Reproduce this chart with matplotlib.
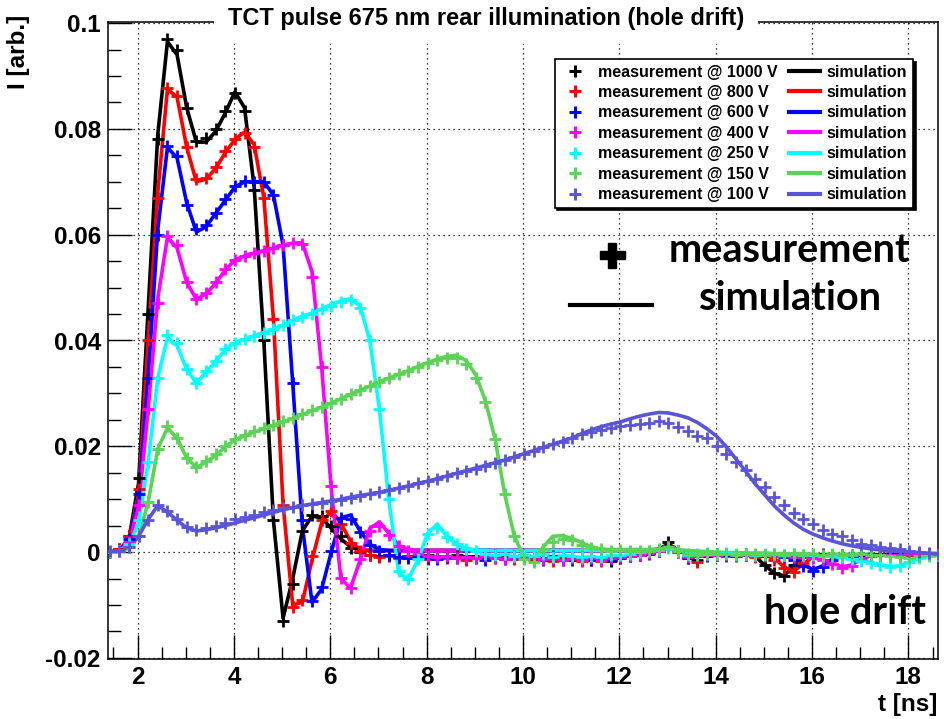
import numpy as np
import matplotlib
matplotlib.use("Agg")
import matplotlib.pyplot as plt
from matplotlib.lines import Line2D
from matplotlib.ticker import MultipleLocator, FuncFormatter

plt.rcParams['font.family'] = ['Liberation Sans', 'DejaVu Sans']
plt.rcParams['font.weight'] = 'bold'
plt.rcParams['axes.unicode_minus'] = False

# %% data: sample times (ns), currents in units of 1e-3 arb.
t = np.round(1.42 + 0.2 * np.arange(87), 2)

voltages = ['1000', '800', '600', '400', '250', '150', '100']
colors = ['#000000', '#ff0000', '#0000ff', '#ff00ff', '#00ffff', '#59d454', '#5954d8']

meas_1000 = [
    0.0, 0.5, 3.0, 14.0, 45.0, 78.0, 97.0, 95.0, 84.0, 77.7,
    78.3, 80.0, 83.4, 86.7, 83.3, 68.5, 40.0, 6.0, -13.0, -6.0,
    4.0, 7.0, 6.8, 5.0, 3.0, 0.8, 0.0, -0.5, -0.8, -0.6,
    -1.0, -0.7, -0.9, -0.5, -1.0, -0.8, -0.6, -1.1, -0.7, -0.9,
    -0.6, -1.0, -0.8, -0.5, -0.9, -1.2, -0.8, -1.0, -1.4, -1.1,
    -1.5, -1.2, -1.6, -1.0, -0.8, -0.5, -0.2, 0.3, 1.9, 0.2,
    -1.2, -1.5, -0.8, -0.3, -0.5, -0.6, -0.4, -0.8, -2.5, -4.0,
    -4.6, -2.5, -1.0, -0.6, -0.4, -0.7, -0.5, -0.8, -0.6, -0.5,
    -0.6, -0.4, -0.5, -0.3, -0.5, -0.4, -0.3]
sim_1000 = [
    0.0, 0.3, 2.5, 13.0, 46.0, 79.0, 96.5, 94.0, 84.0, 77.5,
    77.5, 79.5, 83.0, 87.0, 84.0, 69.0, 40.0, 6.0, -12.5, -5.0,
    4.0, 6.8, 6.5, 4.5, 2.5, 1.0, 0.4, 0.3, 0.3, 0.3,
    0.3, 0.3, 0.3, 0.3, 0.3, 0.3, 0.3, 0.3, 0.3, 0.3,
    0.3, 0.3, 0.3, 0.3, 0.3, 0.3, 0.3, 0.3, 0.3, 0.3,
    0.2, 0.2, 0.2, 0.2, 0.2, 0.2, 0.3, 0.6, 1.5, 0.4,
    -0.1, -0.3, -0.3, -0.3, -0.3, -0.3, -0.4, -0.8, -2.5, -4.0,
    -4.5, -2.5, -1.0, -0.6, -0.5, -0.5, -0.5, -0.5, -0.5, -0.5,
    -0.5, -0.5, -0.5, -0.4, -0.4, -0.4, -0.4]

meas_800 = [
    0.0, 0.5, 3.0, 12.0, 40.0, 67.0, 87.7, 86.2, 76.5, 70.5,
    70.7, 72.8, 75.8, 78.0, 79.2, 76.6, 67.0, 44.0, 9.0, -10.3,
    -9.0, -0.8, 6.0, 7.8, 5.4, 1.8, 0.2, -0.5, -1.0, -0.7,
    -1.2, -0.8, -1.0, -1.3, -0.7, -1.1, -0.9, -1.4, -1.0, -0.8,
    -1.2, -0.9, -1.3, -1.0, -1.5, -1.2, -1.6, -1.1, -1.3, -1.7,
    -1.2, -1.6, -1.3, -1.1, -0.7, -0.4, -0.2, 0.2, 1.2, 0.2,
    -0.8, -1.9, -0.6, -0.5, -0.7, -0.5, -0.6, -0.9, -0.8, -1.5,
    -3.0, -3.8, -2.0, -0.8, -0.6, -0.8, -0.5, -0.7, -0.6, -0.4,
    -0.5, -0.6, -0.4, -0.5, -0.3, -0.4, -0.3]
sim_800 = [
    0.0, 0.3, 2.5, 11.0, 40.0, 68.0, 87.5, 86.0, 76.5, 70.0,
    70.5, 72.5, 75.5, 78.0, 79.4, 77.0, 67.0, 44.0, 9.0, -10.0,
    -9.5, -1.5, 5.5, 7.8, 5.5, 2.0, 0.5, 0.3, 0.3, 0.3,
    0.3, 0.3, 0.3, 0.3, 0.3, 0.3, 0.3, 0.3, 0.3, 0.3,
    0.3, 0.3, 0.3, 0.3, 0.3, 0.3, 0.3, 0.3, 0.3, 0.3,
    0.2, 0.2, 0.2, 0.2, 0.2, 0.2, 0.3, 0.5, 1.0, 0.4,
    -0.1, -0.3, -0.3, -0.3, -0.3, -0.3, -0.3, -0.4, -0.6, -1.2,
    -2.8, -3.6, -2.2, -0.9, -0.5, -0.5, -0.5, -0.5, -0.5, -0.5,
    -0.5, -0.5, -0.4, -0.4, -0.4, -0.4, -0.4]

meas_600 = [
    0.0, 0.4, 2.5, 11.0, 33.0, 60.0, 76.7, 74.8, 65.7, 61.0,
    61.9, 64.1, 66.7, 69.2, 70.1, 69.9, 69.9, 67.5, 58.0, 32.0,
    6.0, -9.2, -6.6, 0.2, 6.5, 6.2, 3.8, 1.3, 0.3, -0.5,
    -0.9, -1.2, -0.8, -1.1, -1.3, -0.9, -1.2, -0.8, -1.1, -1.4,
    -1.0, -1.3, -0.9, -1.2, -1.0, -1.4, -1.1, -1.5, -1.2, -1.0,
    -1.4, -1.1, -1.5, -1.2, -0.8, -0.6, -0.3, 0.2, 0.9, 0.1,
    -1.2, -0.7, -0.4, -0.6, -0.5, -0.7, -0.5, -0.6, -0.8, -0.7,
    -0.9, -1.5, -2.6, -3.5, -2.8, -1.4, -0.8, -0.6, -0.5, -0.6,
    -0.4, -0.5, -0.4, -0.3, -0.4, -0.3, -0.3]
sim_600 = [
    0.0, 0.3, 2.2, 10.0, 33.0, 61.0, 76.5, 74.5, 66.0, 60.5,
    61.5, 64.0, 66.5, 69.0, 70.0, 70.0, 70.0, 67.5, 58.0, 32.0,
    5.0, -9.5, -7.0, 0.0, 6.5, 7.0, 4.0, 1.5, 0.5, 0.3,
    0.3, 0.3, 0.3, 0.3, 0.3, 0.3, 0.3, 0.3, 0.3, 0.3,
    0.3, 0.3, 0.3, 0.3, 0.3, 0.3, 0.3, 0.3, 0.3, 0.3,
    0.2, 0.2, 0.2, 0.2, 0.2, 0.2, 0.2, 0.4, 0.8, 0.3,
    -0.1, -0.2, -0.3, -0.3, -0.3, -0.3, -0.3, -0.4, -0.4, -0.5,
    -0.7, -1.3, -2.4, -3.3, -2.6, -1.3, -0.7, -0.5, -0.5, -0.5,
    -0.5, -0.4, -0.4, -0.4, -0.4, -0.3, -0.3]

meas_400 = [
    0.0, 0.4, 2.0, 9.0, 27.0, 47.0, 59.8, 58.0, 51.0, 47.8,
    49.0, 51.0, 53.5, 55.3, 56.0, 56.6, 56.9, 57.5, 58.0, 58.4,
    58.3, 52.0, 35.0, 12.5, -4.8, -6.8, -1.3, 4.0, 5.0, 3.2,
    1.2, 0.2, -0.4, -0.8, -1.0, -0.7, -1.1, -0.9, -1.2, -0.8,
    -1.1, -1.3, -0.9, -1.2, -1.0, -1.3, -1.1, -1.4, -1.2, -1.5,
    -1.1, -1.4, -1.2, -1.0, -0.7, -0.5, -0.2, 0.3, 0.9, 0.1,
    -1.0, -0.7, -0.5, -0.6, -0.4, -0.6, -0.5, -0.7, -0.6, -0.8,
    -0.7, -0.9, -1.0, -1.2, -1.5, -2.2, -3.0, -2.6, -1.5, -0.8,
    -0.6, -0.5, -0.5, -0.4, -0.4, -0.3, -0.3]
sim_400 = [
    0.0, 0.3, 1.8, 8.5, 27.0, 48.0, 59.5, 57.5, 51.0, 47.8,
    48.8, 50.8, 53.3, 55.2, 56.0, 56.5, 57.0, 57.5, 58.0, 58.4,
    58.5, 53.0, 35.0, 12.0, -5.0, -6.8, -1.5, 4.5, 5.7, 3.5,
    1.3, 0.5, 0.3, 0.3, 0.3, 0.3, 0.3, 0.3, 0.3, 0.3,
    0.3, 0.3, 0.3, 0.3, 0.3, 0.3, 0.3, 0.3, 0.3, 0.3,
    0.2, 0.2, 0.2, 0.2, 0.2, 0.2, 0.2, 0.4, 0.7, 0.3,
    -0.1, -0.2, -0.3, -0.3, -0.3, -0.3, -0.3, -0.4, -0.4, -0.5,
    -0.6, -0.7, -0.9, -1.1, -1.4, -2.0, -2.8, -2.4, -1.4, -0.7,
    -0.5, -0.4, -0.4, -0.4, -0.3, -0.3, -0.3]

meas_250 = [
    0.0, 0.3, 1.5, 6.0, 17.0, 33.0, 41.0, 39.5, 34.6, 32.0,
    34.2, 36.2, 38.4, 39.6, 40.2, 40.9, 41.5, 42.1, 42.9, 43.8,
    44.5, 45.1, 45.9, 46.6, 47.2, 47.7, 46.2, 40.0, 27.0, 10.0,
    -3.5, -5.0, -1.3, 3.5, 4.5, 2.9, 1.6, 0.6, 0.2, -0.3,
    -0.6, -0.4, -0.8, -0.5, -0.7, -0.4, -0.9, -0.6, -0.8, -1.0,
    -0.7, -0.9, -0.6, -0.5, -0.3, 0.0, 0.2, 0.4, 0.8, 0.2,
    -0.6, -0.4, -0.3, -0.4, -0.2, -0.4, -0.3, -0.5, -0.4, -0.3,
    -0.5, -0.4, -0.6, -0.5, -0.7, -0.8, -1.0, -1.3, -1.6, -2.0,
    -2.5, -2.8, -2.6, -1.8, -1.2, -0.8, -0.6]
sim_250 = [
    0.0, 0.2, 1.2, 5.5, 17.0, 33.0, 40.5, 39.0, 34.5, 32.0,
    34.0, 36.0, 38.3, 39.6, 40.2, 40.9, 41.5, 42.1, 42.9, 43.8,
    44.6, 45.2, 46.0, 46.8, 47.5, 47.9, 46.5, 40.0, 27.0, 9.5,
    -4.0, -5.0, -1.5, 3.5, 5.3, 3.0, 1.5, 0.7, 0.4, 0.3,
    0.3, 0.3, 0.3, 0.3, 0.3, 0.3, 0.3, 0.3, 0.3, 0.3,
    0.3, 0.3, 0.3, 0.3, 0.3, 0.3, 0.3, 0.4, 0.7, 0.3,
    0.1, 0.0, 0.0, -0.1, -0.1, -0.1, -0.2, -0.2, -0.2, -0.3,
    -0.3, -0.4, -0.5, -0.6, -0.7, -0.8, -1.0, -1.2, -1.5, -1.9,
    -2.4, -2.7, -2.6, -1.8, -1.2, -0.8, -0.6]

meas_150 = [
    0.0, 0.2, 1.0, 3.0, 9.5, 19.5, 23.8, 21.6, 17.8, 16.0,
    17.2, 18.5, 20.1, 21.4, 22.2, 22.9, 23.5, 24.1, 24.7, 25.3,
    26.1, 26.8, 27.5, 28.2, 29.0, 29.8, 30.7, 31.4, 32.2, 32.9,
    33.6, 34.2, 35.0, 35.7, 36.3, 36.7, 36.7, 35.6, 33.0, 28.4,
    21.4, 11.0, 3.0, -1.3, -1.9, 0.5, 2.0, 2.4, 2.2, 1.4,
    0.8, 0.5, 0.3, 0.4, 0.2, 0.3, 0.3, 0.5, 1.0, 0.3,
    -0.3, -0.5, -0.2, -0.4, -0.3, -0.5, -0.3, -0.4, -0.6, -0.4,
    -0.5, -0.3, -0.6, -0.4, -0.5, -0.4, -0.6, -0.5, -0.4, -0.6,
    -0.5, -0.7, -0.9, -1.1, -0.8, -0.6, -0.5]
sim_150 = [
    0.0, 0.1, 0.8, 2.8, 9.5, 19.5, 23.5, 21.5, 17.8, 16.0,
    17.0, 18.3, 19.9, 21.2, 22.0, 22.7, 23.3, 24.0, 24.6, 25.3,
    26.0, 26.7, 27.4, 28.2, 29.0, 29.8, 30.6, 31.4, 32.2, 32.9,
    33.6, 34.3, 35.1, 35.8, 36.5, 37.0, 37.2, 36.2, 33.5, 28.6,
    21.4, 11.0, 3.0, -1.0, -1.5, 1.0, 3.0, 3.1, 2.6, 1.8,
    1.0, 0.6, 0.5, 0.5, 0.5, 0.5, 0.5, 0.6, 0.8, 0.5,
    0.3, 0.2, 0.1, 0.0, -0.1, -0.1, -0.2, -0.2, -0.2, -0.3,
    -0.3, -0.3, -0.3, -0.4, -0.4, -0.4, -0.4, -0.4, -0.4, -0.4,
    -0.5, -0.5, -0.6, -0.6, -0.5, -0.5, -0.4]

meas_100 = [
    0.3, 0.2, 1.0, 3.0, 6.0, 8.9, 7.8, 6.2, 4.7, 4.2,
    4.5, 5.0, 5.6, 6.2, 6.6, 7.1, 7.5, 7.9, 8.3, 8.6,
    8.9, 9.1, 9.3, 9.6, 9.9, 10.3, 10.6, 11.0, 11.3, 11.7,
    12.1, 12.5, 13.1, 13.5, 13.9, 14.4, 14.9, 15.4, 15.8, 16.3,
    16.8, 17.4, 18.0, 18.6, 19.2, 19.9, 20.4, 20.9, 21.6, 22.3,
    22.7, 23.1, 23.5, 23.9, 24.1, 24.2, 24.5, 24.8, 24.5, 23.6,
    22.9, 22.0, 21.6, 20.0, 18.6, 17.0, 15.5, 13.9, 12.3, 10.4,
    8.9, 7.4, 6.2, 5.3, 4.1, 3.5, 3.0, 2.2, 1.6, 1.3,
    0.9, 0.7, 0.6, 0.3, 0.0, -0.2, -0.3]
sim_100 = [
    0.0, 0.2, 1.0, 3.0, 6.2, 8.8, 7.6, 6.0, 4.6, 4.0,
    4.2, 4.6, 5.0, 5.5, 6.0, 6.5, 7.0, 7.5, 8.0, 8.4,
    8.8, 9.1, 9.4, 9.7, 10.0, 10.4, 10.7, 11.0, 11.3, 11.7,
    12.1, 12.5, 13.0, 13.4, 13.9, 14.4, 14.9, 15.4, 15.9, 16.4,
    16.9, 17.4, 18.0, 18.6, 19.2, 19.8, 20.4, 21.0, 21.6, 22.4,
    23.1, 23.7, 24.2, 24.6, 25.2, 25.7, 26.1, 26.4, 26.3, 25.9,
    25.4, 24.5, 23.3, 21.9, 19.9, 17.6, 15.3, 12.9, 10.8, 8.7,
    7.0, 5.5, 4.3, 3.4, 2.7, 2.1, 1.6, 1.2, 0.9, 0.6,
    0.4, 0.2, 0.1, 0.0, -0.1, -0.2, -0.3]

meas = [meas_1000, meas_800, meas_600, meas_400, meas_250, meas_150, meas_100]
sims = [sim_1000, sim_800, sim_600, sim_400, sim_250, sim_150, sim_100]

# %% figure
W, H = 945, 719
fig = plt.figure(figsize=(W / 100, H / 100), dpi=100)
ax = fig.add_axes([107.7 / W, 1 - 659 / H, 830.6 / W, 637 / H])

for v, c, m, s in zip(voltages, colors, meas, sims):
    ax.plot(t, np.array(s) * 1e-3, color=c, lw=2.6, zorder=2)
    ax.plot(t, np.array(m) * 1e-3, ls='none', marker='+', ms=8, mew=2.0,
            color=c, zorder=3)

ax.set_xlim(1.38, 18.62)
ax.set_ylim(-0.0202, 0.1002)
ax.xaxis.set_major_locator(MultipleLocator(2))
ax.xaxis.set_minor_locator(MultipleLocator(0.5))
ax.yaxis.set_major_locator(MultipleLocator(0.02))
ax.yaxis.set_minor_locator(MultipleLocator(0.005))
ax.yaxis.set_major_formatter(FuncFormatter(lambda v, p: f'{round(v, 3):g}'))
ax.tick_params(which='both', direction='in', top=False, right=False,
               labelsize=17.5, width=1.0)
ax.tick_params(which='major', length=17)
ax.tick_params(which='minor', length=9)
ax.tick_params(axis='y', pad=5)
ax.tick_params(axis='x', pad=5)
for lab in ax.get_xticklabels() + ax.get_yticklabels():
    lab.set_fontweight('bold')
ax.grid(True, which='major', color='black', ls=(0, (1, 3)), lw=0.9)
for sp in ax.spines.values():
    sp.set_linewidth(1.1)

# legend: measurements in column 1, simulations in column 2
h_meas = [Line2D([], [], ls='none', marker='+', ms=8, mew=2.2, color=c) for c in colors]
h_sim = [Line2D([], [], color=c, lw=3) for c in colors]
labels = [f'measurement @ {v} V' for v in voltages] + ['simulation'] * 7
leg = ax.legend(h_meas + h_sim, labels, ncol=2, loc='upper right',
                bbox_to_anchor=(0.9695, 0.942), borderaxespad=0,
                prop={'size': 11.5, 'weight': 'bold'}, frameon=True,
                fancybox=False, edgecolor='black', framealpha=1,
                labelspacing=0.34, handlelength=1.9, handletextpad=0.45,
                columnspacing=0.75, borderpad=0.35,
                shadow={'color': 'black', 'alpha': 1})
leg.get_frame().set_linewidth(1.2)

# title box over the top frame
fig.text(486 / W, 1 - 18 / H, 'TCT pulse 675 nm rear illumination (hole drift)',
         ha='center', va='center', fontsize=17, fontweight='bold',
         bbox=dict(boxstyle='square,pad=0.6', facecolor='white', edgecolor='none'))

fig.text(18 / W, 1 - 15 / H, 'I [arb.]', rotation=90, ha='center', va='top',
         fontsize=17.5, fontweight='bold')
fig.text(937 / W, 1 - 711 / H, 't [ns]', ha='right', va='baseline',
         fontsize=17.5, fontweight='bold')

# annotations
fig.add_artist(Line2D([612 / W], [1 - 255 / H], marker='P', ms=18, color='black',
                      ls='none', transform=fig.transFigure))
fig.add_artist(Line2D([570 / W, 652 / W], [1 - 305 / H, 1 - 305 / H], lw=3,
                      color='black', transform=fig.transFigure))
ann = dict(fontsize=28.5, fontweight='bold', family=['Lato', 'DejaVu Sans'],
           ha='left', va='center')
fig.text(669 / W, 1 - 250 / H, 'measurement', **ann)
fig.text(699 / W, 1 - 299 / H, 'simulation', **ann)
fig.text(764 / W, 1 - 612 / H, 'hole drift', **ann)

fig.savefig('out.png', dpi=100)
